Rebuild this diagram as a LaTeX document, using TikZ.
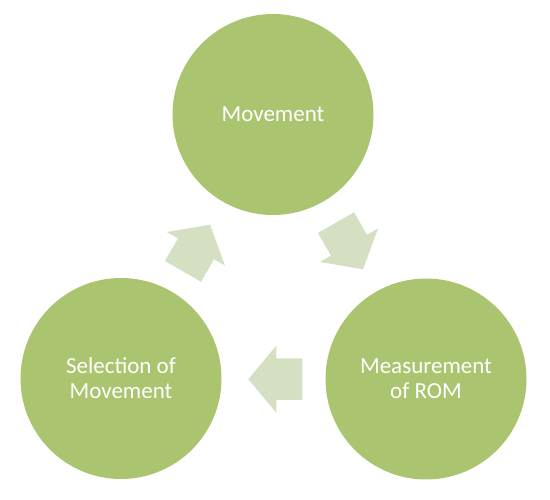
\documentclass[tikz,border=0pt]{standalone}
\usepackage{fontspec}
\setmainfont{Carlito}
\definecolor{circfill}{HTML}{ABC46F}
\definecolor{arrfill}{HTML}{D5E0C3}
\tikzset{
  stage/.style={circle, fill=circfill, minimum size=201pt, inner sep=0pt,
    text=white, align=center, font=\fontsize{23}{25}\selectfont},
  blockarrow/.style={fill=arrfill}
}
\begin{document}
\begin{tikzpicture}[x=1pt,y=-1pt]
\useasboundingbox (0,0) rectangle (550,500);
\node[stage] (move) at (273,114.5) {Movement};
\node[stage] (sel) at (121,378.5) {Selection of\\Movement};
\node[stage] (meas) at (426,379) {Measurement\\of ROM};
% arrow shape in local coords, pointing along +x
\def\arrowshape{(-27,-20.8) -- (-1,-20.8) -- (-1,-33.6) -- (27,0) -- (-1,33.6) -- (-1,20.8) -- (-27,20.8) -- cycle}
\begin{scope}[shift={(349.5,246)}, rotate=-60]
  \fill[blockarrow] \arrowshape;
\end{scope}
\begin{scope}[shift={(275.3,379.2)}, rotate=180]
  \fill[blockarrow] \arrowshape;
\end{scope}
\begin{scope}[shift={(196.5,248)}, rotate=60]
  \fill[blockarrow] \arrowshape;
\end{scope}
\end{tikzpicture}
\end{document}
